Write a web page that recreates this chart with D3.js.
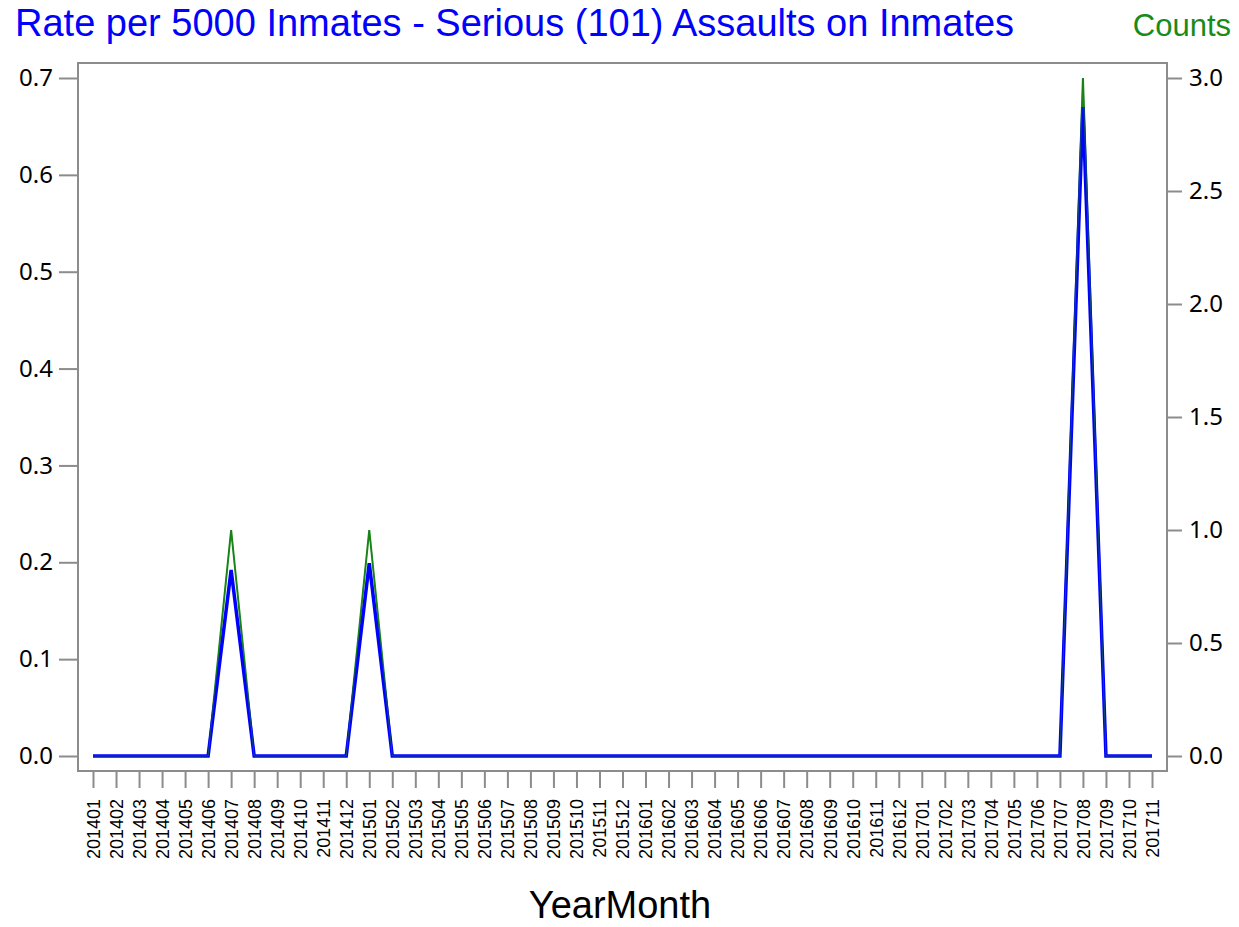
<!DOCTYPE html>
<html>
<head>
<meta charset="utf-8">
<script src="https://cdn.jsdelivr.net/npm/d3@7"></script>
<style>
  body { margin: 0; background: #fff; }
</style>
</head>
<body>
<svg id="drawing_region"></svg>
<script>
var months = ['201401','201402','201403','201404','201405','201406','201407','201408','201409','201410','201411','201412',
  '201501','201502','201503','201504','201505','201506','201507','201508','201509','201510','201511','201512',
  '201601','201602','201603','201604','201605','201606','201607','201608','201609','201610','201611','201612',
  '201701','201702','201703','201704','201705','201706','201707','201708','201709','201710','201711'];

var rates = [0,0,0,0,0,0,0.192,0,0,0,0,0,
  0.199,0,0,0,0,0,0,0,0,0,0,0,
  0,0,0,0,0,0,0,0,0,0,0,0,
  0,0,0,0,0,0,0,0.670,0,0,0];

var counts = [0,0,0,0,0,0,1,0,0,0,0,0,
  1,0,0,0,0,0,0,0,0,0,0,0,
  0,0,0,0,0,0,0,0,0,0,0,0,
  0,0,0,0,0,0,0,3,0,0,0];

var leftTicks = [0, 0.1, 0.2, 0.3, 0.4, 0.5, 0.6, 0.7];
var rightTicks = [0, 0.5, 1.0, 1.5, 2.0, 2.5, 3.0];

var width = 1239;
var height = 927;
var frame = {left: 78, right: 1167, top: 63, bottom: 771};

var svg = d3.select('#drawing_region')
    .attr('width', width)
    .attr('height', height)
    .style('font-family', '"Liberation Sans", Arial, sans-serif');

// x positions: first tick at 93, last at 1152
const xscale = d3.scalePoint()
      .domain(months)
      .range([93, 1152]);

const yleft = d3.scaleLinear()
      .domain([0, 0.7])
      .range([756, 78]);

const yright = d3.scaleLinear()
      .domain([0, 3.0])
      .range([756, 78]);

// frame
svg.append('rect')
    .attr('x', frame.left)
    .attr('y', frame.top)
    .attr('width', frame.right - frame.left)
    .attr('height', frame.bottom - frame.top)
    .attr('fill', 'none')
    .attr('stroke', '#8c8c8c')
    .attr('stroke-width', 2);

// left axis
const yaxis_l = d3.axisLeft(yleft)
      .tickValues(leftTicks)
      .tickFormat(d3.format('.1f'))
      .tickSize(19)
      .tickPadding(6)
      .tickSizeOuter(0);

const gl = svg.append('g')
      .attr('transform', `translate(${frame.left}, 0)`)
      .call(yaxis_l);

// right axis
const yaxis_r = d3.axisRight(yright)
      .tickValues(rightTicks)
      .tickFormat(d3.format('.1f'))
      .tickSize(15)
      .tickPadding(7)
      .tickSizeOuter(0);

const gr = svg.append('g')
      .attr('transform', `translate(${frame.right}, 0)`)
      .call(yaxis_r);

[gl, gr].forEach(g => {
  g.select('.domain').remove();
  g.selectAll('line').attr('stroke', '#8c8c8c').attr('stroke-width', 2);
  g.selectAll('text')
    .attr('fill', '#000')
    .style('font-family', '"Noto Sans", "Open Sans", sans-serif')
    .style('font-size', '24px');
});

// bottom axis
const xaxis = d3.axisBottom(xscale)
      .tickSize(17)
      .tickSizeOuter(0);

const gx = svg.append('g')
      .attr('transform', `translate(0, ${frame.bottom})`)
      .call(xaxis);

gx.select('.domain').remove();
gx.selectAll('line').attr('stroke', '#8c8c8c').attr('stroke-width', 2);
gx.selectAll('text')
    .attr('fill', '#000')
    .style('font-size', '18px')
    .attr('transform', 'rotate(-90)')
    .attr('text-anchor', 'end')
    .attr('dy', '0.35em')
    .attr('x', -28)
    .attr('y', 0);

// lines
const line_count = d3.line()
      .x((d, i) => xscale(months[i]))
      .y(d => yright(d));

const line_rate = d3.line()
      .x((d, i) => xscale(months[i]))
      .y(d => yleft(d));

svg.append('path')
    .attr('d', line_count(counts))
    .attr('stroke', '#1a8a1a')
    .attr('stroke-width', 2)
    .attr('fill', 'none');

svg.append('path')
    .attr('d', line_rate(rates))
    .attr('stroke', '#0000ff')
    .attr('stroke-width', 3.5)
    .attr('fill', 'none');

svg.append('path')
    .attr('d', line_count(counts))
    .attr('stroke', '#1a7a1a')
    .attr('stroke-width', 1)
    .attr('stroke-opacity', 0.6)
    .attr('fill', 'none');

// titles
svg.append('text')
    .attr('x', 15)
    .attr('y', 36)
    .attr('fill', '#0000ff')
    .style('font-size', '38px')
    .text('Rate per 5000 Inmates - Serious (101) Assaults on Inmates');

svg.append('text')
    .attr('x', 1231)
    .attr('y', 36)
    .attr('text-anchor', 'end')
    .attr('fill', '#1a8a1a')
    .style('font-size', '31px')
    .text('Counts');

svg.append('text')
    .attr('x', 620)
    .attr('y', 918)
    .attr('text-anchor', 'middle')
    .attr('fill', '#000')
    .style('font-size', '38px')
    .text('YearMonth');
</script>
</body>
</html>
